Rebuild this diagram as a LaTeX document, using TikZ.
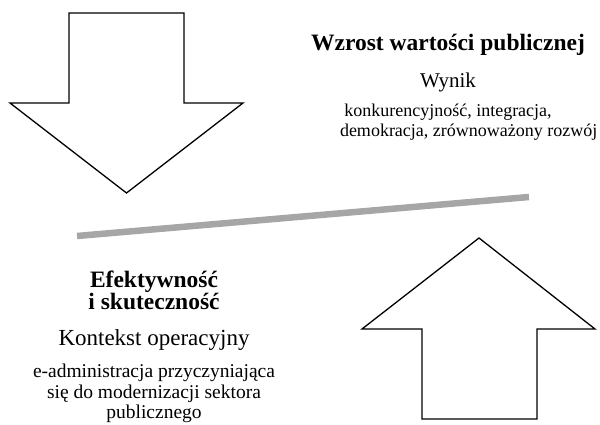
\documentclass[tikz,border=0pt]{standalone}
\usepackage{fontspec}
\setmainfont{Liberation Serif}
\begin{document}
\begin{tikzpicture}[x=1pt,y=-1pt,
  bigarrow/.style={draw=black,line width=1.3pt,fill=white,line join=miter},
  divider/.style={draw=black!35,line width=6.5pt},
  % multi-line nodes: the base anchor sits on the last line's baseline
  txt/.style={anchor=base,inner sep=0pt,align=center},
  headtxt/.style={txt,font=\fontsize{23.5}{20.5}\selectfont\bfseries},
  midtxt/.style={txt,font=\fontsize{21}{25}\selectfont},
  smalltxt/.style={txt,font=\fontsize{18}{19.5}\selectfont},
  lowmid/.style={txt,font=\fontsize{23}{26}\selectfont},
  lowsmall/.style={txt,font=\fontsize{19.5}{20.5}\selectfont}]
\useasboundingbox (0,0) rectangle (600,425);

% downward block arrow
\draw[bigarrow] (69,13) -- (184,13) -- (184,103) -- (243,103) -- (126.5,193)
  -- (10,103) -- (69,103) -- cycle;

% upward block arrow
\draw[bigarrow] (422,419) -- (537,419) -- (537,329) -- (595,329) -- (479,238)
  -- (362,329) -- (422,329) -- cycle;

% slanted divider
\coordinate (divL) at (77,236);
\coordinate (divR) at (529,197);
\draw[divider] (divL) -- (divR);

% upper text block
\node[headtxt]  (title1) at (448,51)    {Wzrost wartości publicznej};
\node[midtxt]   (sub1)   at (448,88)    {Wynik};
\node[smalltxt] (desc1)  at (448,136.5) {konkurencyjność, integracja,\\
  \hspace*{2.3em}demokracja, zrównoważony rozwój};

% lower text block
\node[headtxt]  (title2) at (154,309.5) {Efektywność\\i skuteczność};
\node[lowmid]   (sub2)   at (154,345)   {Kontekst operacyjny};
\node[lowsmall] (desc2)  at (154,418.5) {e-administracja przyczyniająca\\
  się do modernizacji sektora\\publicznego};
\end{tikzpicture}
\end{document}
